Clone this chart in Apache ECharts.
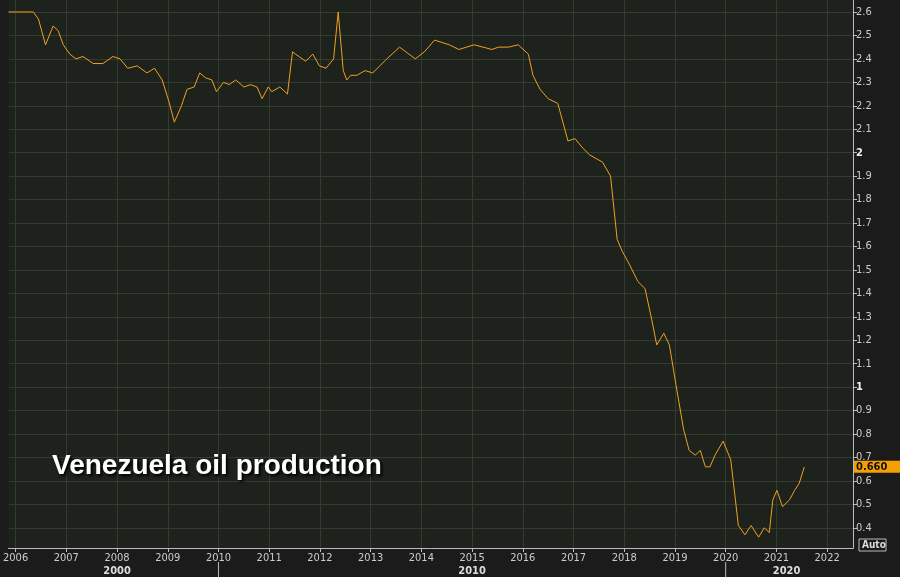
<!DOCTYPE html><html><head><meta charset="utf-8"><script src="https://cdn.jsdelivr.net/npm/echarts@6/dist/echarts.min.js"></script>
<style>html,body{margin:0;background:#1b1b1b}#c{width:900px;height:577px}</style></head><body><div id="c"></div><script>
const years=[2005.86,2006.35,2006.45,2006.59,2006.74,2006.84,2006.94,2007.07,2007.19,2007.33,2007.53,2007.72,2007.92,2008.06,2008.21,2008.4,2008.59,2008.74,2008.89,2009.02,2009.13,2009.27,2009.38,2009.52,2009.63,2009.74,2009.87,2009.96,2010.1,2010.21,2010.34,2010.5,2010.63,2010.76,2010.86,2010.98,2011.05,2011.21,2011.36,2011.46,2011.52,2011.72,2011.86,2011.99,2012.12,2012.27,2012.36,2012.46,2012.53,2012.61,2012.73,2012.89,2013.04,2013.18,2013.32,2013.57,2013.88,2014.06,2014.26,2014.55,2014.74,2015.04,2015.39,2015.52,2015.72,2015.91,2016.11,2016.2,2016.34,2016.5,2016.69,2016.89,2017.03,2017.18,2017.32,2017.57,2017.73,2017.86,2017.96,2018.11,2018.27,2018.41,2018.54,2018.64,2018.78,2018.89,2019.02,2019.17,2019.28,2019.4,2019.5,2019.6,2019.69,2019.79,2019.95,2020.1,2020.25,2020.38,2020.5,2020.65,2020.76,2020.86,2020.93,2021.01,2021.12,2021.26,2021.36,2021.45,2021.55,2021.78,2022.09];
const values=[2.6,2.6,2.57,2.46,2.54,2.52,2.46,2.42,2.40,2.41,2.38,2.38,2.41,2.40,2.36,2.37,2.34,2.36,2.31,2.22,2.13,2.20,2.27,2.28,2.34,2.32,2.31,2.26,2.30,2.29,2.31,2.28,2.29,2.28,2.23,2.28,2.26,2.28,2.25,2.43,2.42,2.39,2.42,2.37,2.36,2.40,2.60,2.35,2.31,2.33,2.33,2.35,2.34,2.37,2.40,2.45,2.40,2.43,2.48,2.46,2.44,2.46,2.44,2.45,2.45,2.46,2.42,2.33,2.27,2.23,2.21,2.05,2.06,2.02,1.99,1.96,1.90,1.63,1.58,1.52,1.45,1.42,1.29,1.18,1.23,1.18,1.01,0.82,0.73,0.71,0.73,0.66,0.66,0.71,0.77,0.69,0.41,0.37,0.41,0.36,0.40,0.38,0.52,0.56,0.49,0.52,0.56,0.59,0.66];
const xTicks=[2006,2007,2008,2009,2010,2011,2012,2013,2014,2015,2016,2017,2018,2019,2020,2021,2022];
const yTicks=[0.4,0.5,0.6,0.7,0.8,0.9,1,1.1,1.2,1.3,1.4,1.5,1.6,1.7,1.8,1.9,2,2.1,2.2,2.3,2.4,2.5,2.6];
const lastLabel='0.660';
const decades=[['2000',2008],['2010',2015],['2020',2021.2]];
const ch=echarts.init(document.getElementById('c'));
ch.setOption({backgroundColor:'#1b1b1b',animation:false,
grid:{left:0,right:47,top:0,bottom:29,backgroundColor:'#1e221c',show:true,borderWidth:0},
xAxis:{type:'value',min:2005.86,max:2022.51,
 axisLine:{show:true,lineStyle:{color:'#bbb'}},axisTick:{show:true,length:4,customValues:xTicks,lineStyle:{color:'#bbb'}},
 axisLabel:{color:'#ccc',fontSize:11,fontFamily:'DejaVu Sans Condensed',margin:5,customValues:xTicks,formatter:v=>String(v)},
 splitLine:{show:true,lineStyle:{color:'#333a30',width:1}}},
yAxis:{type:'value',position:'right',min:0.314,max:2.651,
 axisLine:{show:true,lineStyle:{color:'#bbb'}},axisTick:{show:true,length:4,customValues:yTicks,lineStyle:{color:'#bbb'}},
 axisLabel:{color:'#ccc',fontSize:11,fontFamily:'DejaVu Sans Condensed',margin:3,customValues:yTicks,
  formatter:v=>{const r=Math.round(v*10)/10; return (r===1||r===2)?'{b|'+r+'}':String(r);},
  rich:{b:{fontWeight:'bold',color:'#eee',fontSize:11}}},
 splitLine:{show:true,lineStyle:{color:'#333a30',width:1}}},
series:[{type:'line',data:years.map((y,i)=>[y,values[i]]),showSymbol:false,lineStyle:{color:'#f0a020',width:1}}]
});
const yl=ch.convertToPixel({yAxisIndex:0},0.66);
const g=[{type:'rect',shape:{x:853,y:yl-6,width:47,height:12},style:{fill:'#f5a000'}},
{type:'text',x:856,y:yl,style:{text:lastLabel,fill:'#111',font:'bold 11px DejaVu Sans Condensed',textVerticalAlign:'middle'}},
{type:'rect',shape:{x:859,y:539,width:27,height:12},style:{fill:'#1b1b1b',stroke:'#bbb',lineWidth:1}},
{type:'text',x:862,y:545,style:{text:'Auto',fill:'#ddd',font:'bold 10px DejaVu Sans Condensed',textVerticalAlign:'middle'}},
{type:'text',x:52,y:466,style:{text:'Venezuela oil production',fill:'#fff',font:'bold 28px Liberation Sans',textVerticalAlign:'middle',textShadowColor:'#000',textShadowBlur:3,textShadowOffsetX:2,textShadowOffsetY:2}}];
decades.forEach(d=>{const x=ch.convertToPixel({xAxisIndex:0},d[1]);g.push({type:'text',x:x,y:571,style:{text:d[0],fill:'#ddd',font:'bold 11px DejaVu Sans Condensed',textAlign:'center',textVerticalAlign:'middle'}});});
[2010,2020].forEach(v=>{const x=ch.convertToPixel({xAxisIndex:0},v);g.push({type:'line',shape:{x1:x,y1:562,x2:x,y2:577},style:{stroke:'#bbb',lineWidth:1}});});
ch.setOption({graphic:g});
</script></body></html>
